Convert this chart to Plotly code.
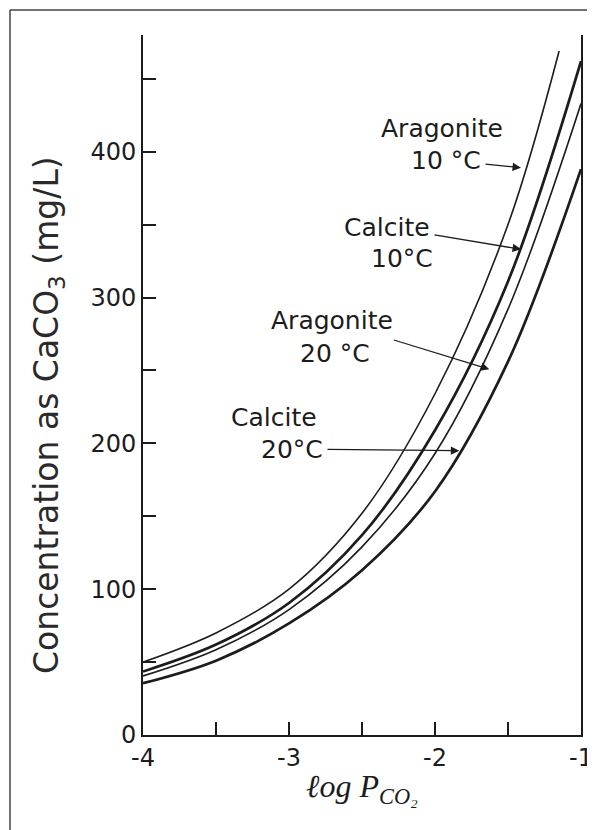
import plotly.graph_objects as go

# ---- data ----
x_arag10 = [-4.0, -3.5, -3.0, -2.5, -2.0, -1.5, -1.15]
y_arag10 = [50, 70, 100, 152, 234, 350, 469]

x_grid = [-4.0, -3.5, -3.0, -2.5, -2.0, -1.5, -1.0]
y_calc10 = [43.5, 62, 90.5, 137, 209, 311, 462]
y_arag20 = [40.5, 58.5, 86, 129, 193, 292, 433]
y_calc20 = [35.5, 51, 76.5, 113, 167, 256, 388]

x_ticks = [-4, -3, -2, -1]
y_ticks = [0, 100, 200, 300, 400]

# page body has an 8px margin: figure coords = screen coords - 8
OFF = 8
W, H = 595 - OFF, 830 - OFF
L, R, T, B = 143 - OFF, 14, 35 - OFF, H - (735 - OFF)
PW, PH = W - L - R, H - T - B


def px(xs):
    return (xs - OFF - L) / PW


def py(ys):
    return (H - B - (ys - OFF)) / PH


INK = "#1c1c1c"
fig = go.Figure()
series = [
    (x_arag10, y_arag10, 1.6, "Aragonite 10 °C"),
    (x_grid, y_calc10, 2.7, "Calcite 10°C"),
    (x_grid, y_arag20, 1.6, "Aragonite 20 °C"),
    (x_grid, y_calc20, 2.7, "Calcite 20°C"),
]
for xs, ys, w, name in series:
    fig.add_trace(go.Scatter(x=xs, y=ys, mode="lines", name=name,
                             line=dict(color=INK, width=w, shape="spline", smoothing=1.0),
                             showlegend=False, hoverinfo="skip"))

FONT = "DejaVu Sans"
TS = 25
# (text, centre x, centre y, arrow tip or None) in screen pixels
texts = [
    ("Aragonite", 442, 128, None), ("10 °C", 446, 160, (521, 167.7)),
    ("Calcite", 387, 227, (521, 249.3)), ("10°C", 402, 258, None),
    ("Aragonite", 332, 321, (489.3, 369.3)), ("20 °C", 335, 353, None),
    ("Calcite", 274, 417, None), ("20°C", 292, 449, (459.3, 450.7)),
]
ann = []
for t, xs, ys, tip in texts:
    f = dict(family=FONT, size=TS, color=INK)
    if tip is None:
        ann.append(dict(text=t, x=px(xs), y=py(ys), xref="paper", yref="paper",
                        showarrow=False, xanchor="center", yanchor="middle", font=f))
    else:
        ann.append(dict(text=t, x=px(tip[0]), y=py(tip[1]), xref="paper", yref="paper",
                        ax=xs - tip[0], ay=ys - tip[1], showarrow=True, arrowhead=2,
                        arrowsize=1.3, arrowwidth=1.3, arrowcolor=INK,
                        borderpad=4, font=f))

# y-axis title, placed where the reference shows it
ann.append(dict(text="Concentration as CaCO<sub>3</sub> (mg/L)", textangle=-90,
                x=px(48), y=py(415), xref="paper", yref="paper", showarrow=False,
                xanchor="center", yanchor="middle",
                font=dict(family=FONT, size=33, color="#2a2a2a")))

fig.update_layout(
    width=W, height=H,
    margin=dict(l=L, r=R, t=T, b=B, autoexpand=False),
    paper_bgcolor="white", plot_bgcolor="white",
    font=dict(family=FONT, color=INK),
    annotations=ann,
    shapes=[
        dict(type="line", xref="paper", yref="paper", x0=px(10), x1=px(600),
             y0=py(10), y1=py(10), line=dict(color="#444", width=1.5)),
        dict(type="line", xref="paper", yref="paper", x0=px(10), x1=px(10),
             y0=py(10), y1=py(840), line=dict(color="#444", width=1.5)),
    ],
    xaxis=dict(range=[-4, -1], tickvals=x_ticks, ticktext=[str(v) for v in x_ticks],
               ticks="inside", ticklen=13, tickwidth=1.5, tickcolor=INK,
               minor=dict(dtick=0.5, tick0=-4, ticks="inside", ticklen=13,
                          tickwidth=1.5, tickcolor=INK),
               showline=True, linecolor=INK, linewidth=2, showgrid=False,
               zeroline=False, automargin=False, tickfont=dict(size=24, family=FONT),
               title=dict(text="<i>ℓog P</i><sub><i>CO₂</i></sub>",
                          font=dict(family="Liberation Serif", size=32),
                          standoff=4)),
    yaxis=dict(range=[0, 480], tickvals=y_ticks, ticktext=[str(v) for v in y_ticks],
               ticks="inside", ticklen=13, tickwidth=1.5, tickcolor=INK,
               minor=dict(dtick=50, tick0=0, ticks="inside", ticklen=13,
                          tickwidth=1.5, tickcolor=INK),
               showline=True, linecolor=INK, linewidth=2, mirror=True,
               showgrid=False, zeroline=False, automargin=False,
               tickfont=dict(size=24, family=FONT)),
)

fig.write_html("out.html")
